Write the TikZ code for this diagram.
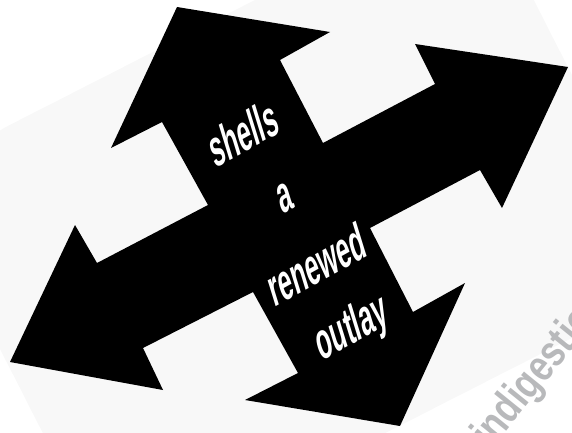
\documentclass[tikz,border=0pt]{standalone}
\usepackage{fontspec}
\usepackage{tikz}
\newfontfamily\wordfont[FakeStretch=0.53]{Liberation Sans}
\newfontfamily\markfont[FakeStretch=0.8]{Liberation Sans}
\definecolor{markgray}{HTML}{B8B9BB}
\definecolor{panelgray}{HTML}{F8F8F8}

\begin{document}
\begin{tikzpicture}[x=1pt,y=-1pt,
 word/.style={text=white,font=\wordfont\bfseries\fontsize{50}{50}\selectfont,
  inner sep=0pt,rotate=29,xslant=.21},
 wmark/.style={text=markgray,font=\markfont\bfseries\fontsize{44}{44}\selectfont,
  inner sep=0pt,anchor=base west,rotate=51}]
\useasboundingbox (0,0) rectangle (572,433);
% faint panel behind the cross
\begin{scope}[shift={(287,225)},rotate=27]
\fill[panelgray,rounded corners=110] (-312,-215) rectangle (322,230);
\end{scope}
% the four-way arrow
\fill[black] (177,7) -- (330,32) -- (280,60) -- (323,143) -- (435,84) -- (415,44)
 -- (568,67) -- (502,208) -- (480,170) -- (370,228) -- (413,312) -- (465,283)
 -- (400,426) -- (245,400) -- (298,373) -- (253,292) -- (143,348) -- (163,390)
 -- (10,362) -- (75,225) -- (97,263) -- (208,205) -- (162,122) -- (111,148) -- cycle;
\foreach \x/\y/\t [count=\i] in {243/133/shells,285/198/a,316/264/renewed,352/330/outlay}
 \node[word] (w\i) at (\x,\y) {\t};
\begin{scope}
\clip (0,0) rectangle (572,433);
\node[wmark] (watermark) at (491,450) {indigestion};
\end{scope}
\end{tikzpicture}
\end{document}
